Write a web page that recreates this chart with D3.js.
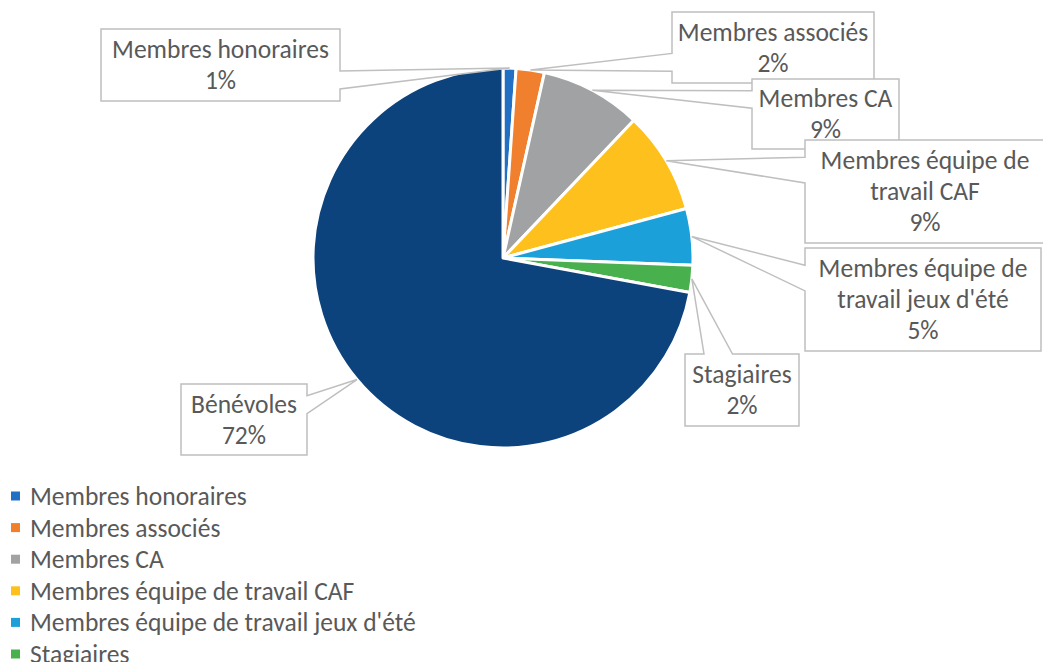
<!doctype html>
<html>
<head>
<meta charset="utf-8">
<title>Pie</title>
<script src="https://cdn.jsdelivr.net/npm/d3@7"></script>
<style>
  body { margin: 0; background: #fff; }
  svg { display: block; font-family: Carlito, Calibri, Lato, sans-serif; }
</style>
</head>
<body>
<svg width="1043" height="662"></svg>
<script>
// data
var categories = ["Membres honoraires", "Membres associés", "Membres CA",
  "Membres équipe de travail CAF", "Membres équipe de travail jeux d'été",
  "Stagiaires", "Bénévoles"];
var values = [1.1, 2.4, 8.6, 8.7, 4.8, 2.3, 72.1];
// how each callout text is broken into lines
var calloutLines = [
  ["Membres honoraires"], ["Membres associés"], ["Membres CA"],
  ["Membres équipe de", "travail CAF"], ["Membres équipe de", "travail jeux d'été"],
  ["Stagiaires"], ["Bénévoles"]
];
var colors = ["#2270c4", "#f07f2e", "#a0a2a3", "#fdc01c", "#1ca0da", "#48b04c", "#0d437d"];

// layout of the callout boxes (x, y, w, h)
var calloutBoxes = [
  [101, 29, 239, 72], [672, 12, 202, 71], [752, 79, 147, 70],
  [805, 140, 240, 103], [805, 248, 236, 103], [685, 354, 114, 72],
  [181, 384, 126, 71]
];

var svg = d3.select("svg"),
    width = +svg.attr("width"),
    height = +svg.attr("height"),
    cx = 503, cy = 258, r = 190;

// fit font so that text widths match the original Calibri sizing
var probe = svg.append("text").attr("font-size", 100).text("Membres honoraires");
var fs = 100 * 217 / probe.node().getComputedTextLength();
probe.remove();
var lineH = 31;

var total = d3.sum(values);
var pie = d3.pie().sort(null).value(function(d) { return d; });
var arcs = pie(values);
var arc = d3.arc().innerRadius(0).outerRadius(r);
var edge = d3.arc().innerRadius(r).outerRadius(r);

var g = svg.append("g").attr("transform", "translate(" + cx + "," + cy + ")");
g.selectAll("path")
    .data(arcs)
    .enter().append("path")
    .attr("d", arc)
    .attr("fill", function(d, i) { return colors[i]; })
    .attr("stroke", "#fff")
    .attr("stroke-width", 3)
    .attr("stroke-linejoin", "round");

// wedge rectangle callout, same rule as the office shape
function calloutPath(b, tip) {
  var x = b[0], y = b[1], w = b[2], h = b[3];
  var dx = tip[0] - (x + w / 2), dy = tip[1] - (y + h / 2);
  var horiz = Math.abs(dy) < Math.abs(dx * h / w);
  var x1 = x + w * (dx > 0 ? 7 : 2) / 12, x2 = x + w * (dx > 0 ? 10 : 5) / 12;
  var y1 = y + h * (dy > 0 ? 7 : 2) / 12, y2 = y + h * (dy > 0 ? 10 : 5) / 12;
  var p = [[x, y]];
  if (!horiz && dy < 0) p.push([x1, y], tip, [x2, y]);
  p.push([x + w, y]);
  if (horiz && dx > 0) p.push([x + w, y1], tip, [x + w, y2]);
  p.push([x + w, y + h]);
  if (!horiz && dy > 0) p.push([x2, y + h], tip, [x1, y + h]);
  p.push([x, y + h]);
  if (horiz && dx < 0) p.push([x, y2], tip, [x, y1]);
  return "M" + p.join("L") + "Z";
}

svg.append("g").selectAll("path")
    .data(arcs)
    .enter().append("path")
    .attr("d", function(d, i) {
      var c = edge.centroid(d);
      return calloutPath(calloutBoxes[i], [c[0] + cx, c[1] + cy]);
    })
    .attr("fill", "#fff")
    .attr("stroke", "#bfbfbf")
    .attr("stroke-width", 1.5);

// texts above every box
svg.append("g").selectAll("g")
    .data(arcs)
    .enter().append("g")
    .each(function(d, i) {
      var b = calloutBoxes[i];
      var lines = calloutLines[i].concat([Math.round(d.value / total * 100) + "%"]);
      var n = lines.length;
      d3.select(this).selectAll("text")
          .data(lines)
          .enter().append("text")
          .attr("x", b[0] + b[2] / 2)
          .attr("y", function(t, j) { return b[1] + b[3] / 2 + (j - (n - 1) / 2) * lineH; })
          .attr("dy", "0.35em")
          .attr("text-anchor", "middle")
          .attr("font-size", fs)
          .attr("fill", "#595959")
          .text(function(t) { return t; });
    });

// legend (the last rows fall below the picture, as in the original)
var rowY = function(i) { return 496 + i * 31.6; };
var legend = svg.append("g").selectAll("g")
    .data(categories.filter(function(d, i) { return rowY(i) - fs / 2 < height; }))
    .enter().append("g")
    .attr("transform", function(d, i) { return "translate(0," + rowY(i) + ")"; });

legend.append("rect")
    .attr("x", 11).attr("y", -4.5)
    .attr("width", 9).attr("height", 9)
    .attr("fill", function(d, i) { return colors[i]; });

legend.append("text")
    .attr("x", 30)
    .attr("dy", "0.35em")
    .attr("font-size", fs)
    .attr("fill", "#595959")
    .text(function(d) { return d; });
</script>
</body>
</html>
